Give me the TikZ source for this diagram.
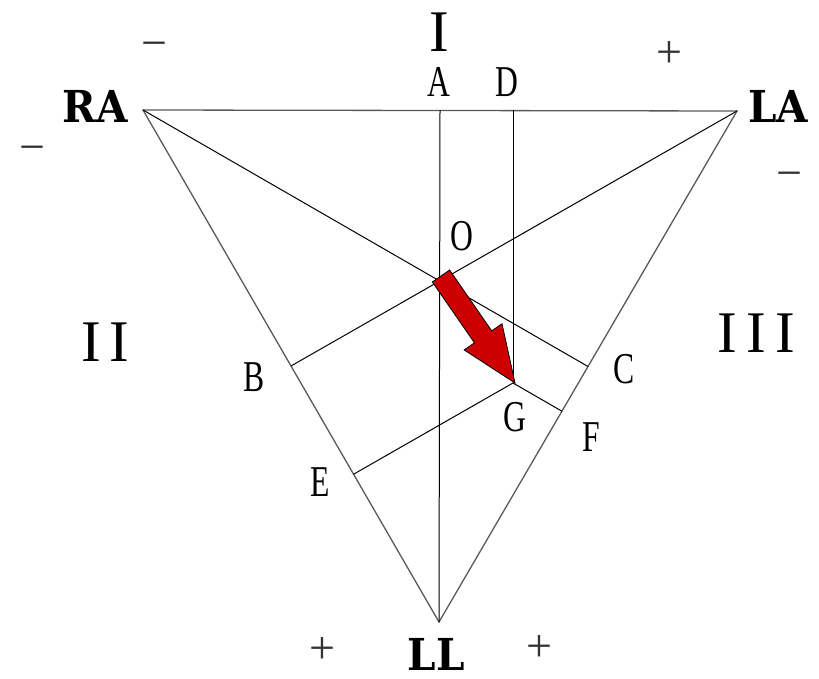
\documentclass[tikz,border=0pt]{standalone}
\usepackage{fontspec}
\setmainfont{Liberation Serif}
\newfontfamily\lblfont[FakeStretch=0.72]{Liberation Serif}
\newfontfamily\leadfont[FakeStretch=0.92]{DejaVu Serif}
\usetikzlibrary{calc}
\definecolor{arrowred}{RGB}{204,0,0}
\begin{document}
\begin{tikzpicture}[x=1pt,y=-1pt,
  edge/.style={draw=black!65, line width=1.3pt, line join=miter},
  inner/.style={draw=black, line width=1pt},
  lbl/.style={inner sep=0pt, font=\lblfont\fontsize{44}{44}\selectfont},
  lead/.style={inner sep=0pt, font=\leadfont\bfseries\fontsize{44}{44}\selectfont},
  roman/.style={inner sep=0pt, font=\fontsize{59}{59}\selectfont},
  sign/.style={inner sep=0pt, text=black!80, font=\fontsize{46}{46}\selectfont},
  vecarrow/.style={fill=arrowred, draw=black, line width=0.8pt, line join=miter}]
\useasboundingbox (0,0) rectangle (819,679);
% vertices and construction points
\coordinate (RA) at (143,110);
\coordinate (LA) at (737,111);
\coordinate (LL) at (439,622);
\coordinate (A) at ($(RA)!0.5!(LA)$);
\coordinate (B) at ($(RA)!0.5!(LL)$);
\coordinate (C) at ($(LA)!0.5!(LL)$);
\coordinate (O) at ($(A)!2/3!(LL)$);
\coordinate (D) at (513,110.5);
\coordinate (G) at (513,383);
\coordinate (E) at (intersection of G--{$(G)+(B)-(LA)$} and RA--LL);
\coordinate (F) at (intersection of G--{$(G)+(C)-(RA)$} and LA--LL);
% triangle
\draw[edge] (RA) -- (LA) -- (LL) -- cycle;
% inner lines
\draw[inner] (A) -- (LL);
\draw[inner] (RA) -- (C);
\draw[inner] (LA) -- (B);
\draw[inner] (D) -- (G);
\draw[inner] (E) -- (G) -- (F);
% vector arrow
\coordinate (T) at (441,276);
\coordinate (P) at (515,383);
\coordinate (H) at ($(T)!74pt!(P)$);
\draw[vecarrow] ($(T)!10.5pt!90:(P)$) -- ($(H)!10.5pt!-90:(T)$) -- ($(H)!23pt!-90:(T)$)
  -- (P) -- ($(H)!23pt!90:(T)$) -- ($(H)!10.5pt!90:(T)$) -- ($(T)!10.5pt!-90:(P)$) -- cycle;
% lead labels
\node[lead] (tRA) at (95,106) {RA};
\node[lead] (tLA) at (778,106) {LA};
\node[lead] (tLL) at (436,654) {LL};
% point labels
\node[lbl] (tA) at (439,82) {A};
\node[lbl] (tD) at (507,82) {D};
\node[lbl] (tO) at (462,236) {O};
\node[lbl] (tB) at (254,377) {B};
\node[lbl] (tC) at (624,369) {C};
\node[lbl] (tG) at (515,417) {G};
\node[lbl] (tF) at (591,437) {F};
\node[lbl] (tE) at (320,482) {E};
% roman numerals
\node[roman] (r1) at (439,32) {I};
\node[roman] (r2) at (105,342) {I\hspace{8.4pt}I};
\node[roman] (r3) at (756,333) {I\hspace{9.5pt}I\hspace{9.5pt}I};
% signs
\node[sign] (m1) at (154,50) {−};
\node[sign] (m2) at (32,154) {−};
\node[sign] (m3) at (789,180) {−};
\node[sign] (p1) at (669,55) {+};
\node[sign] (p2) at (322,651) {+};
\node[sign] (p3) at (539,649) {+};
\end{tikzpicture}
\end{document}
